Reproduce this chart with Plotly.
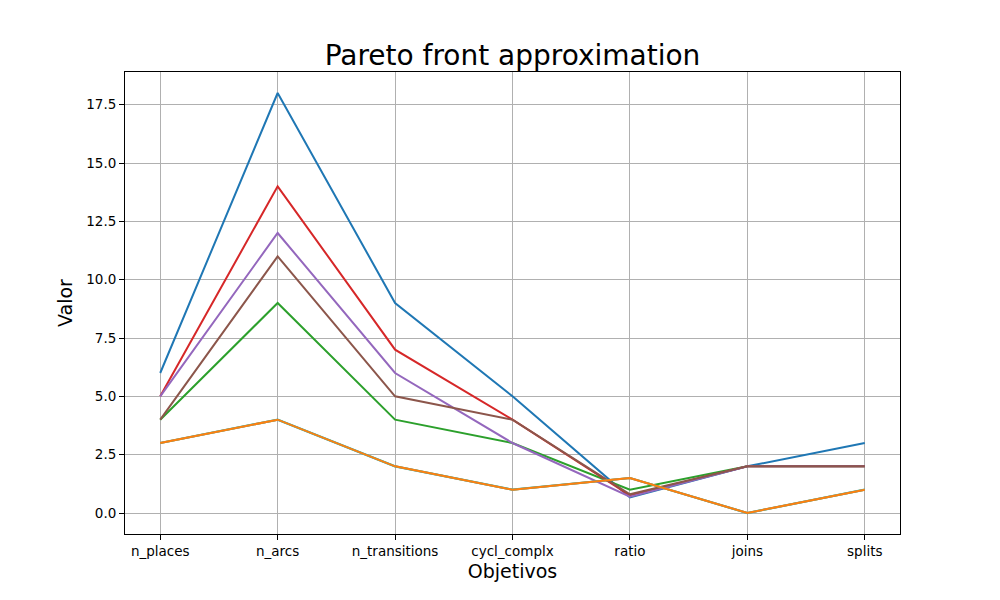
import plotly.graph_objects as go

objetivos = ["n_places", "n_arcs", "n_transitions", "cycl_complx", "ratio", "joins", "splits"]

sol_1 = [6, 18, 9, 5, 0.67, 2, 3]
sol_2 = [3, 4, 2, 1, 1.5, 0, 1]
sol_3 = [4, 9, 4, 3, 1.0, 2, 2]
sol_4 = [5, 14, 7, 4, 0.75, 2, 2]
sol_5 = [5, 12, 6, 3, 0.7, 2, 2]
sol_6 = [4, 11, 5, 4, 0.8, 2, 2]
# soluciones repetidas que quedan debajo de la naranja
sol_7 = [3, 4, 2, 1, 1.5, 0, 1]
sol_8 = [3, 4, 2, 1, 1.5, 0, 1]

soluciones = [sol_1, sol_2, sol_3, sol_4, sol_5, sol_6, sol_7, sol_8]
colores = ["#1f77b4", "#ff7f0e", "#2ca02c", "#d62728", "#9467bd", "#8c564b",
           "#17becf", "#ff7f0e"]

fig = go.Figure()
for i, (valores, color) in enumerate(zip(soluciones, colores)):
    fig.add_trace(
        go.Scatter(x=objetivos, y=valores, mode="lines", name="sol_" + str(i + 1),
                   line=dict(color=color, width=2.2 if i == 6 else 2))
    )

eje = dict(
    showline=True, linecolor="black", linewidth=1, mirror=True,
    showgrid=True, gridcolor="#b0b0b0", gridwidth=1,
    ticks="outside", ticklen=5, tickcolor="black",
    tickfont=dict(size=13.5, color="black"),
    zeroline=False,
)

# la pagina añade 8px de margen, se compensa aqui
fig.update_layout(
    width=1000, height=600,
    paper_bgcolor="white", plot_bgcolor="white",
    font=dict(family="DejaVu Sans", color="black"),
    margin=dict(l=117, r=108, t=64, b=74),
    showlegend=False,
    title=dict(text="Pareto front approximation", x=0.5, xref="paper",
               y=1 - 47 / 600, yref="container", yanchor="middle",
               font=dict(size=28)),
    xaxis=dict(eje, type="category", range=[-0.3, 6.3],
               title=dict(text="Objetivos", font=dict(size=19), standoff=6)),
    yaxis=dict(eje, range=[-0.9, 18.9], tickvals=[0, 2.5, 5, 7.5, 10, 12.5, 15, 17.5],
               ticktext=["0.0", "2.5", "5.0", "7.5", "10.0", "12.5", "15.0", "17.5"],
               title=dict(text="Valor", font=dict(size=19), standoff=8)),
)

fig.write_html("out.html")
